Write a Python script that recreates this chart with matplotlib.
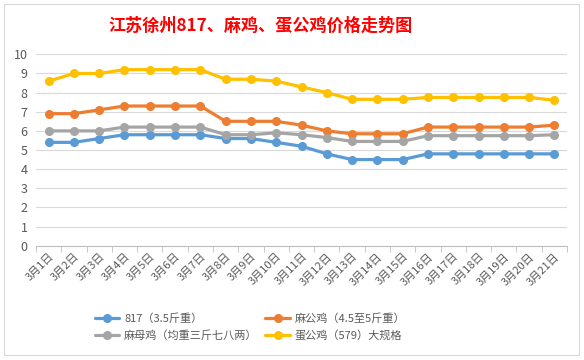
import matplotlib.pyplot as plt
import numpy as np
from matplotlib.patches import Rectangle

plt.rcParams['font.family'] = ['Noto Sans CJK SC', 'DejaVu Sans']

# DATA
dates = [f'3月{d}日' for d in range(1, 22)]
series_names = ['817（3.5斤重）', '麻公鸡（4.5至5斤重）',
                '麻母鸡（均重三斤七八两）', '蛋公鸡（579）大规格']
chick_817 = [5.4, 5.4, 5.6, 5.8, 5.8, 5.8, 5.8, 5.6, 5.6, 5.4, 5.2,
             4.8, 4.5, 4.5, 4.5, 4.8, 4.8, 4.8, 4.8, 4.8, 4.8]
ma_gong = [6.9, 6.9, 7.1, 7.3, 7.3, 7.3, 7.3, 6.5, 6.5, 6.5, 6.3,
           6.0, 5.85, 5.85, 5.85, 6.2, 6.2, 6.2, 6.2, 6.2, 6.3]
ma_mu = [6.0, 6.0, 6.0, 6.2, 6.2, 6.2, 6.2, 5.8, 5.8, 5.9, 5.8,
         5.65, 5.45, 5.45, 5.45, 5.75, 5.75, 5.75, 5.75, 5.75, 5.8]
dan_gong = [8.6, 9.0, 9.0, 9.2, 9.2, 9.2, 9.2, 8.7, 8.7, 8.6, 8.3,
            8.0, 7.65, 7.65, 7.65, 7.75, 7.75, 7.75, 7.75, 7.75, 7.6]
colors = ['#5B9BD5', '#ED7D31', '#A5A5A5', '#FFC000']


fig = plt.figure(figsize=(5.84, 3.6), dpi=100)
fig.patches.append(Rectangle((0.007, 0.015), 0.984, 0.975, transform=fig.transFigure,
                             fill=False, edgecolor='#D9D9D9', linewidth=0.8))
ax = fig.add_axes([0.0616, 0.3175, 0.9094, 0.5315])

x = np.arange(len(dates))
handles = []
for vals, name, c in zip([chick_817, ma_gong, ma_mu, dan_gong], series_names, colors):
    h, = ax.plot(x, vals, color=c, linewidth=2.3, marker='o', markersize=5.5,
                 label=name, solid_capstyle='round')
    handles.append(h)

ax.set_xlim(-0.5, len(dates) - 0.5)
ax.set_ylim(0, 10)
ax.set_yticks(range(0, 11))
ax.yaxis.grid(True, color='#D9D9D9', linewidth=0.8)
ax.set_axisbelow(True)
for s in ['top', 'right', 'left']:
    ax.spines[s].set_visible(False)
ax.spines['bottom'].set_color('#BFBFBF')
ax.tick_params(axis='y', length=0, labelsize=9, labelcolor='#595959', pad=6)

ax.set_xticks(x)
ax.set_xticklabels(dates, rotation=45, ha='right', rotation_mode='anchor',
                   fontsize=8, color='#595959')
ax.tick_params(axis='x', length=0, pad=4)
ax.set_xticks(np.arange(-0.5, len(dates)), minor=True)
ax.tick_params(axis='x', which='minor', length=4, color='#BFBFBF')

fig.text(0.447, 0.928, '江苏徐州817、麻鸡、蛋公鸡价格走势图', ha='center', va='center',
         fontsize=12.3, fontweight='bold', color='#FF0000')

order = [handles[0], handles[2], handles[1], handles[3]]
fig.legend(order, [h.get_label() for h in order], ncol=2, loc='center',
           bbox_to_anchor=(0.428, 0.091), frameon=False, fontsize=8,
           labelcolor='#595959', handlelength=2.2, columnspacing=0.7,
           handletextpad=0.45, labelspacing=0.55)

fig.savefig('out.png', dpi=100)
